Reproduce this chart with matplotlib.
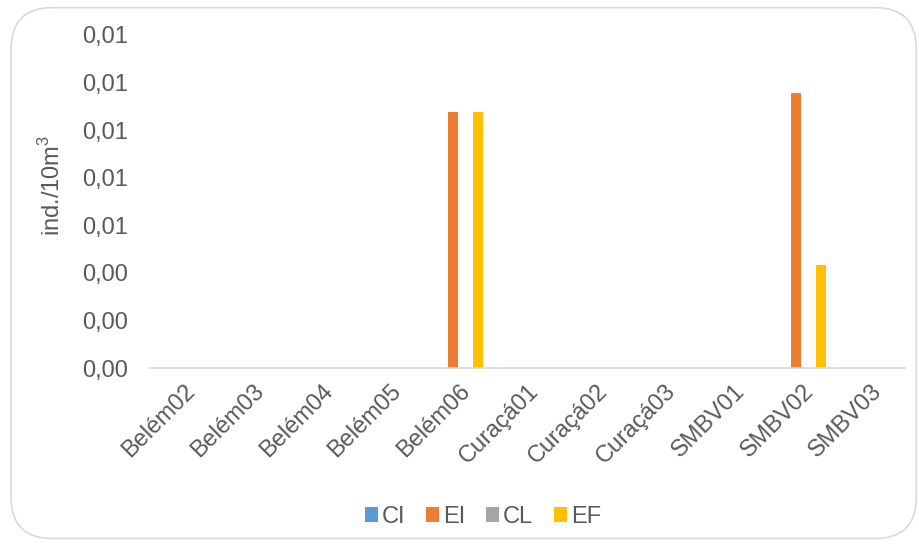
import matplotlib.pyplot as plt
import numpy as np
from matplotlib.patches import FancyBboxPatch
from matplotlib.ticker import FuncFormatter

plt.rcParams['font.family'] = ['Liberation Sans', 'DejaVu Sans']
plt.rcParams['mathtext.fontset'] = 'custom'
plt.rcParams['mathtext.rm'] = 'Liberation Sans'

stations = ['Belém02', 'Belém03', 'Belém04', 'Belém05', 'Belém06',
            'Curaçá01', 'Curaçá02', 'Curaçá03', 'SMBV01', 'SMBV02', 'SMBV03']
ci = [0, 0, 0, 0, 0, 0, 0, 0, 0, 0, 0]
ei = [0, 0, 0, 0, 0.01076, 0, 0, 0, 0, 0.01156, 0]
cl = [0, 0, 0, 0, 0, 0, 0, 0, 0, 0, 0]
ef = [0, 0, 0, 0, 0.01076, 0, 0, 0, 0, 0.00433, 0]

series = [('CI', ci, '#5B9BD5'), ('EI', ei, '#ED7D31'),
          ('CL', cl, '#A5A5A5'), ('EF', ef, '#FFC000')]

grey = '#595959'
fig = plt.figure(figsize=(9.2, 5.44), dpi=100)
ax = fig.add_axes([0.163, 0.3235, 0.821, 0.6122])

# rounded frame round the whole chart
fig.patches.append(FancyBboxPatch((0.012, 0.01), 0.984, 0.976,
                                  boxstyle='round,pad=0,rounding_size=0.045',
                                  transform=fig.transFigure, fc='none',
                                  ec='#D9D9D9', lw=1.2, mutation_aspect=920 / 544))

x = np.arange(len(stations))
step = 0.182
width = 0.145
for i, (name, vals, col) in enumerate(series):
    ax.bar(x + (i - 1.5) * step, vals, width, color=col, label=name)

ax.set_xlim(-0.5, len(stations) - 0.5)
ax.set_ylim(0, 0.014)
ax.set_yticks(np.arange(0, 0.0141, 0.002))
ax.yaxis.set_major_formatter(FuncFormatter(lambda v, p: f'{v:.2f}'.replace('.', ',')))
ax.set_xticks(x)
ax.set_xticklabels(stations, rotation=45, ha='right', rotation_mode='anchor')
ax.tick_params(axis='both', length=0, labelsize=17, labelcolor=grey)
ax.tick_params(axis='y', pad=16)
ax.tick_params(axis='x', pad=9)
for s in ['top', 'right', 'left']:
    ax.spines[s].set_visible(False)
ax.spines['bottom'].set_color('#D9D9D9')
ax.spines['bottom'].set_linewidth(1.2)

fig.text(0.057, 0.66, r'ind./10m$^3$', rotation=90, ha='center', va='center',
         fontsize=17, color=grey)

leg = fig.legend(loc='center', bbox_to_anchor=(0.525, 0.05), ncol=4, frameon=False,
                 fontsize=17, handlelength=0.55, handleheight=0.55, handletextpad=0.15,
                 columnspacing=0.9)
for t in leg.get_texts():
    t.set_color(grey)

fig.savefig('out.png', dpi=100)
